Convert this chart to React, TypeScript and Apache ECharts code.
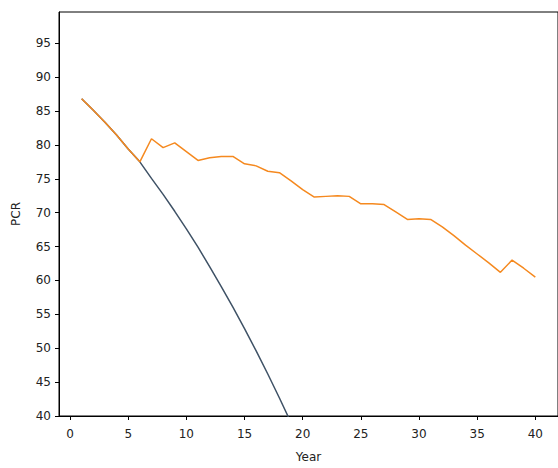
import React, { useEffect, useRef } from "react";
import * as echarts from "echarts";

const years = [1, 2, 3, 4, 5, 6, 7, 8, 9, 10, 11, 12, 13, 14, 15, 16, 17, 18, 19, 20,
  21, 22, 23, 24, 25, 26, 27, 28, 29, 30, 31, 32, 33, 34, 35, 36, 37, 38, 39, 40];

const blueValues = [86.8, 85.1, 83.35, 81.45, 79.4, 77.5, 75.05, 72.7, 70.2, 67.6,
  64.9, 62.05, 59.1, 56.05, 52.9, 49.6, 46.2, 42.65, 39.0];

const orangeValues = [86.8, 85.1, 83.35, 81.45, 79.4, 77.5, 80.9, 79.6, 80.3, 79.0,
  77.7, 78.1, 78.3, 78.3, 77.2, 76.9, 76.1, 75.9, 74.7, 73.4,
  72.3, 72.4, 72.5, 72.4, 71.3, 71.3, 71.2, 70.1, 69.0, 69.1,
  69.0, 67.9, 66.6, 65.2, 63.9, 62.6, 61.2, 63.0, 61.8, 60.5];

const xTicks = [0, 5, 10, 15, 20, 25, 30, 35, 40];
const yTicks = [40, 45, 50, 55, 60, 65, 70, 75, 80, 85, 90, 95];

const FONT = "DejaVu Sans";

export default function App() {
  const ref = useRef<HTMLDivElement>(null);

  useEffect(() => {
    if (!ref.current) return;
    const chart = echarts.init(ref.current, undefined, { renderer: "svg" });
    const blue = blueValues.map((v, i) => [years[i], v]);
    const orange = orangeValues.map((v, i) => [years[i], v]);
    chart.setOption({
      animation: false,
      backgroundColor: "#ffffff",
      grid: {
        left: 59,
        top: 12,
        width: 501,
        height: 407,
        show: true,
        borderColor: "#000",
        borderWidth: 1,
        backgroundColor: "transparent",
      },
      xAxis: {
        type: "value",
        min: -0.95,
        max: 41.95,
        name: "Year",
        nameLocation: "middle",
        nameGap: 35,
        nameTextStyle: { fontFamily: FONT, fontSize: 12, color: "#222" },
        axisLine: { show: true, onZero: false, lineStyle: { color: "#000", width: 1 } },
        axisTick: { show: true, length: 4, customValues: xTicks, lineStyle: { color: "#000" } },
        axisLabel: { customValues: xTicks, fontFamily: FONT, fontSize: 12, color: "#222", margin: 12 },
        splitLine: { show: false },
      },
      yAxis: {
        type: "value",
        min: 40,
        max: 99.6,
        name: "PCR",
        nameLocation: "middle",
        nameGap: 37,
        nameTextStyle: { fontFamily: FONT, fontSize: 12, color: "#222" },
        axisLine: { show: true, onZero: false, lineStyle: { color: "#000", width: 1 } },
        axisTick: { show: true, length: 4, customValues: yTicks, lineStyle: { color: "#000" } },
        axisLabel: { customValues: yTicks, fontFamily: FONT, fontSize: 12, color: "#222", margin: 8 },
        splitLine: { show: false },
      },
      series: [
        {
          type: "line",
          data: blue,
          showSymbol: false,
          symbol: "none",
          clip: true,
          lineStyle: { color: "#3f5266", width: 1.5 },
          z: 2,
        },
        {
          type: "line",
          data: orange,
          showSymbol: false,
          symbol: "none",
          clip: true,
          lineStyle: { color: "#f5891f", width: 1.5 },
          z: 3,
        },
      ],
    });
    return () => chart.dispose();
  }, []);

  return (
    <div
      ref={ref}
      style={{ position: "fixed", left: 0, top: 0, width: 558, height: 468, overflow: "hidden" }}
    />
  );
}
